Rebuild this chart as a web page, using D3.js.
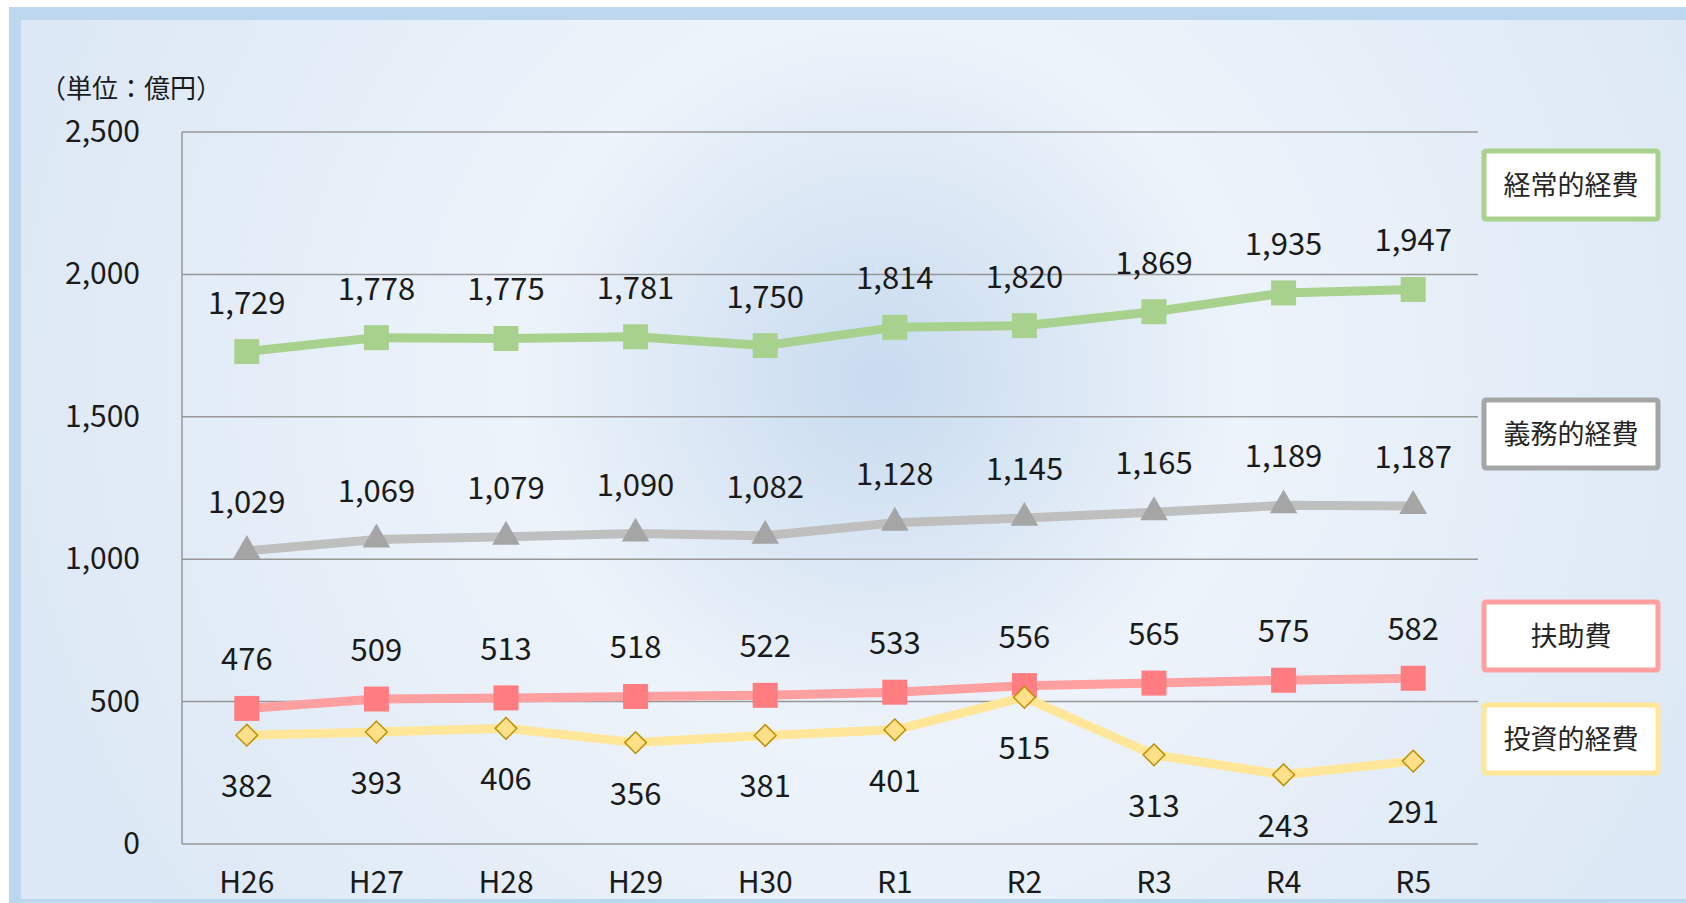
<!DOCTYPE html>
<html>
<head>
<meta charset="utf-8">
<script src="https://cdn.jsdelivr.net/npm/d3@7"></script>
<style>
  html, body { margin: 0; padding: 0; background: #fff; }
  svg { display: block; font-family: "Noto Sans CJK JP", "Noto Sans", sans-serif; }
</style>
</head>
<body>
<svg width="1686" height="903"></svg>
<script>
// data
const years = ["H26", "H27", "H28", "H29", "H30", "R1", "R2", "R3", "R4", "R5"];
const keijo = [1729, 1778, 1775, 1781, 1750, 1814, 1820, 1869, 1935, 1947];
const gimu = [1029, 1069, 1079, 1090, 1082, 1128, 1145, 1165, 1189, 1187];
const fujo = [476, 509, 513, 518, 522, 533, 556, 565, 575, 582];
const toshi = [382, 393, 406, 356, 381, 401, 515, 313, 243, 291];
const yTicks = [0, 500, 1000, 1500, 2000, 2500];
const unitLabel = "（単位：億円）";

const series = [
  { name: "経常的経費", values: keijo, line: "#a9d18e", fill: "#a9d18e", stroke: "none", box: "#a9d18e", shape: "square", labelPos: "above", boxY: 185 },
  { name: "義務的経費", values: gimu, line: "#bfbfbf", fill: "#a5a5a5", stroke: "none", box: "#a5a5a5", shape: "triangle", labelPos: "above", boxY: 434 },
  { name: "扶助費", values: fujo, line: "#ff9f9f", fill: "#ff7c80", stroke: "none", box: "#ff9f9f", shape: "square", labelPos: "above", boxY: 636 },
  { name: "投資的経費", values: toshi, line: "#ffe699", fill: "#ffe08a", stroke: "#bf9000", box: "#ffe699", shape: "diamond", labelPos: "below", boxY: 739 }
];

const svg = d3.select("svg");
const mLeft = 182, mRight = 1478, mTop = 132, mBottom = 844;

// background
const defs = svg.append("defs");
const grad = defs.append("radialGradient")
  .attr("id", "bg")
  .attr("gradientUnits", "userSpaceOnUse")
  .attr("cx", 880).attr("cy", 380).attr("r", 900);
grad.append("stop").attr("offset", "0%").attr("stop-color", "#c8dbef");
grad.append("stop").attr("offset", "40%").attr("stop-color", "#edf3fa");
grad.append("stop").attr("offset", "100%").attr("stop-color", "#dce8f5");

svg.append("rect").attr("x", 9).attr("y", 7).attr("width", 1700).attr("height", 910).attr("fill", "#bdd7ee");
svg.append("rect").attr("x", 21).attr("y", 20).attr("width", 1700).attr("height", 879).attr("fill", "url(#bg)");

const x = d3.scaleBand().domain(years).range([mLeft, mRight]);
const cx = d => x(d) + x.bandwidth() / 2;
const y = d3.scaleLinear().domain([0, 2500]).range([mBottom, mTop]);

// grid
svg.append("g")
  .selectAll("line")
  .data(yTicks)
  .join("line")
  .attr("x1", mLeft).attr("x2", mRight)
  .attr("y1", d => y(d)).attr("y2", d => y(d))
  .attr("stroke", "#979797").attr("stroke-width", 1.5);

svg.append("line")
  .attr("x1", mLeft).attr("x2", mLeft)
  .attr("y1", mTop).attr("y2", mBottom)
  .attr("stroke", "#979797").attr("stroke-width", 1.5);

// y axis labels
svg.append("g")
  .selectAll("text")
  .data(yTicks)
  .join("text")
  .attr("x", 140)
  .attr("y", d => y(d) + 10)
  .attr("text-anchor", "end")
  .attr("font-size", 30)
  .attr("fill", "#1a1a1a")
  .text(d3.format(","));

// x axis labels
svg.append("g")
  .selectAll("text")
  .data(years)
  .join("text")
  .attr("x", d => cx(d))
  .attr("y", 893)
  .attr("text-anchor", "middle")
  .attr("font-size", 30)
  .attr("fill", "#1a1a1a")
  .text(d => d);

svg.append("text")
  .attr("x", 40).attr("y", 98)
  .attr("font-size", 26)
  .attr("fill", "#1a1a1a")
  .text(unitLabel);

// lines
const lineGen = d3.line().x((d, i) => cx(years[i])).y(d => y(d));

const sym = {
  square: d3.symbol().type(d3.symbolSquare).size(625),
  triangle: d3.symbol().type(d3.symbolTriangle).size(330),
  diamond: d3.symbol().type(d3.symbolDiamond2).size(300)
};

series.forEach(s => {
  const g = svg.append("g");
  g.append("path")
    .datum(s.values)
    .attr("d", lineGen)
    .attr("fill", "none")
    .attr("stroke", s.line)
    .attr("stroke-width", 9)
    .attr("stroke-linejoin", "round");

  g.selectAll("path.m")
    .data(s.values)
    .join("path")
    .attr("class", "m")
    .attr("transform", (d, i) => `translate(${cx(years[i])},${y(d)})`)
    .attr("d", sym[s.shape])
    .attr("fill", s.fill)
    .attr("stroke", s.stroke)
    .attr("stroke-width", 1.5);

  g.selectAll("text")
    .data(s.values)
    .join("text")
    .attr("x", (d, i) => cx(years[i]))
    .attr("y", d => y(d) + (s.labelPos === "above" ? -38 : 62))
    .attr("text-anchor", "middle")
    .attr("font-size", 31)
    .attr("fill", "#1a1a1a")
    .text(d3.format(","));

  // legend box
  svg.append("rect")
    .attr("x", 1484).attr("y", s.boxY - 34)
    .attr("width", 174).attr("height", 68)
    .attr("rx", 2)
    .attr("fill", "#fff")
    .attr("stroke", s.box)
    .attr("stroke-width", 5);
  svg.append("text")
    .attr("x", 1571).attr("y", s.boxY + 10)
    .attr("text-anchor", "middle")
    .attr("font-size", 27)
    .attr("fill", "#262626")
    .text(s.name);
});
</script>
</body>
</html>
